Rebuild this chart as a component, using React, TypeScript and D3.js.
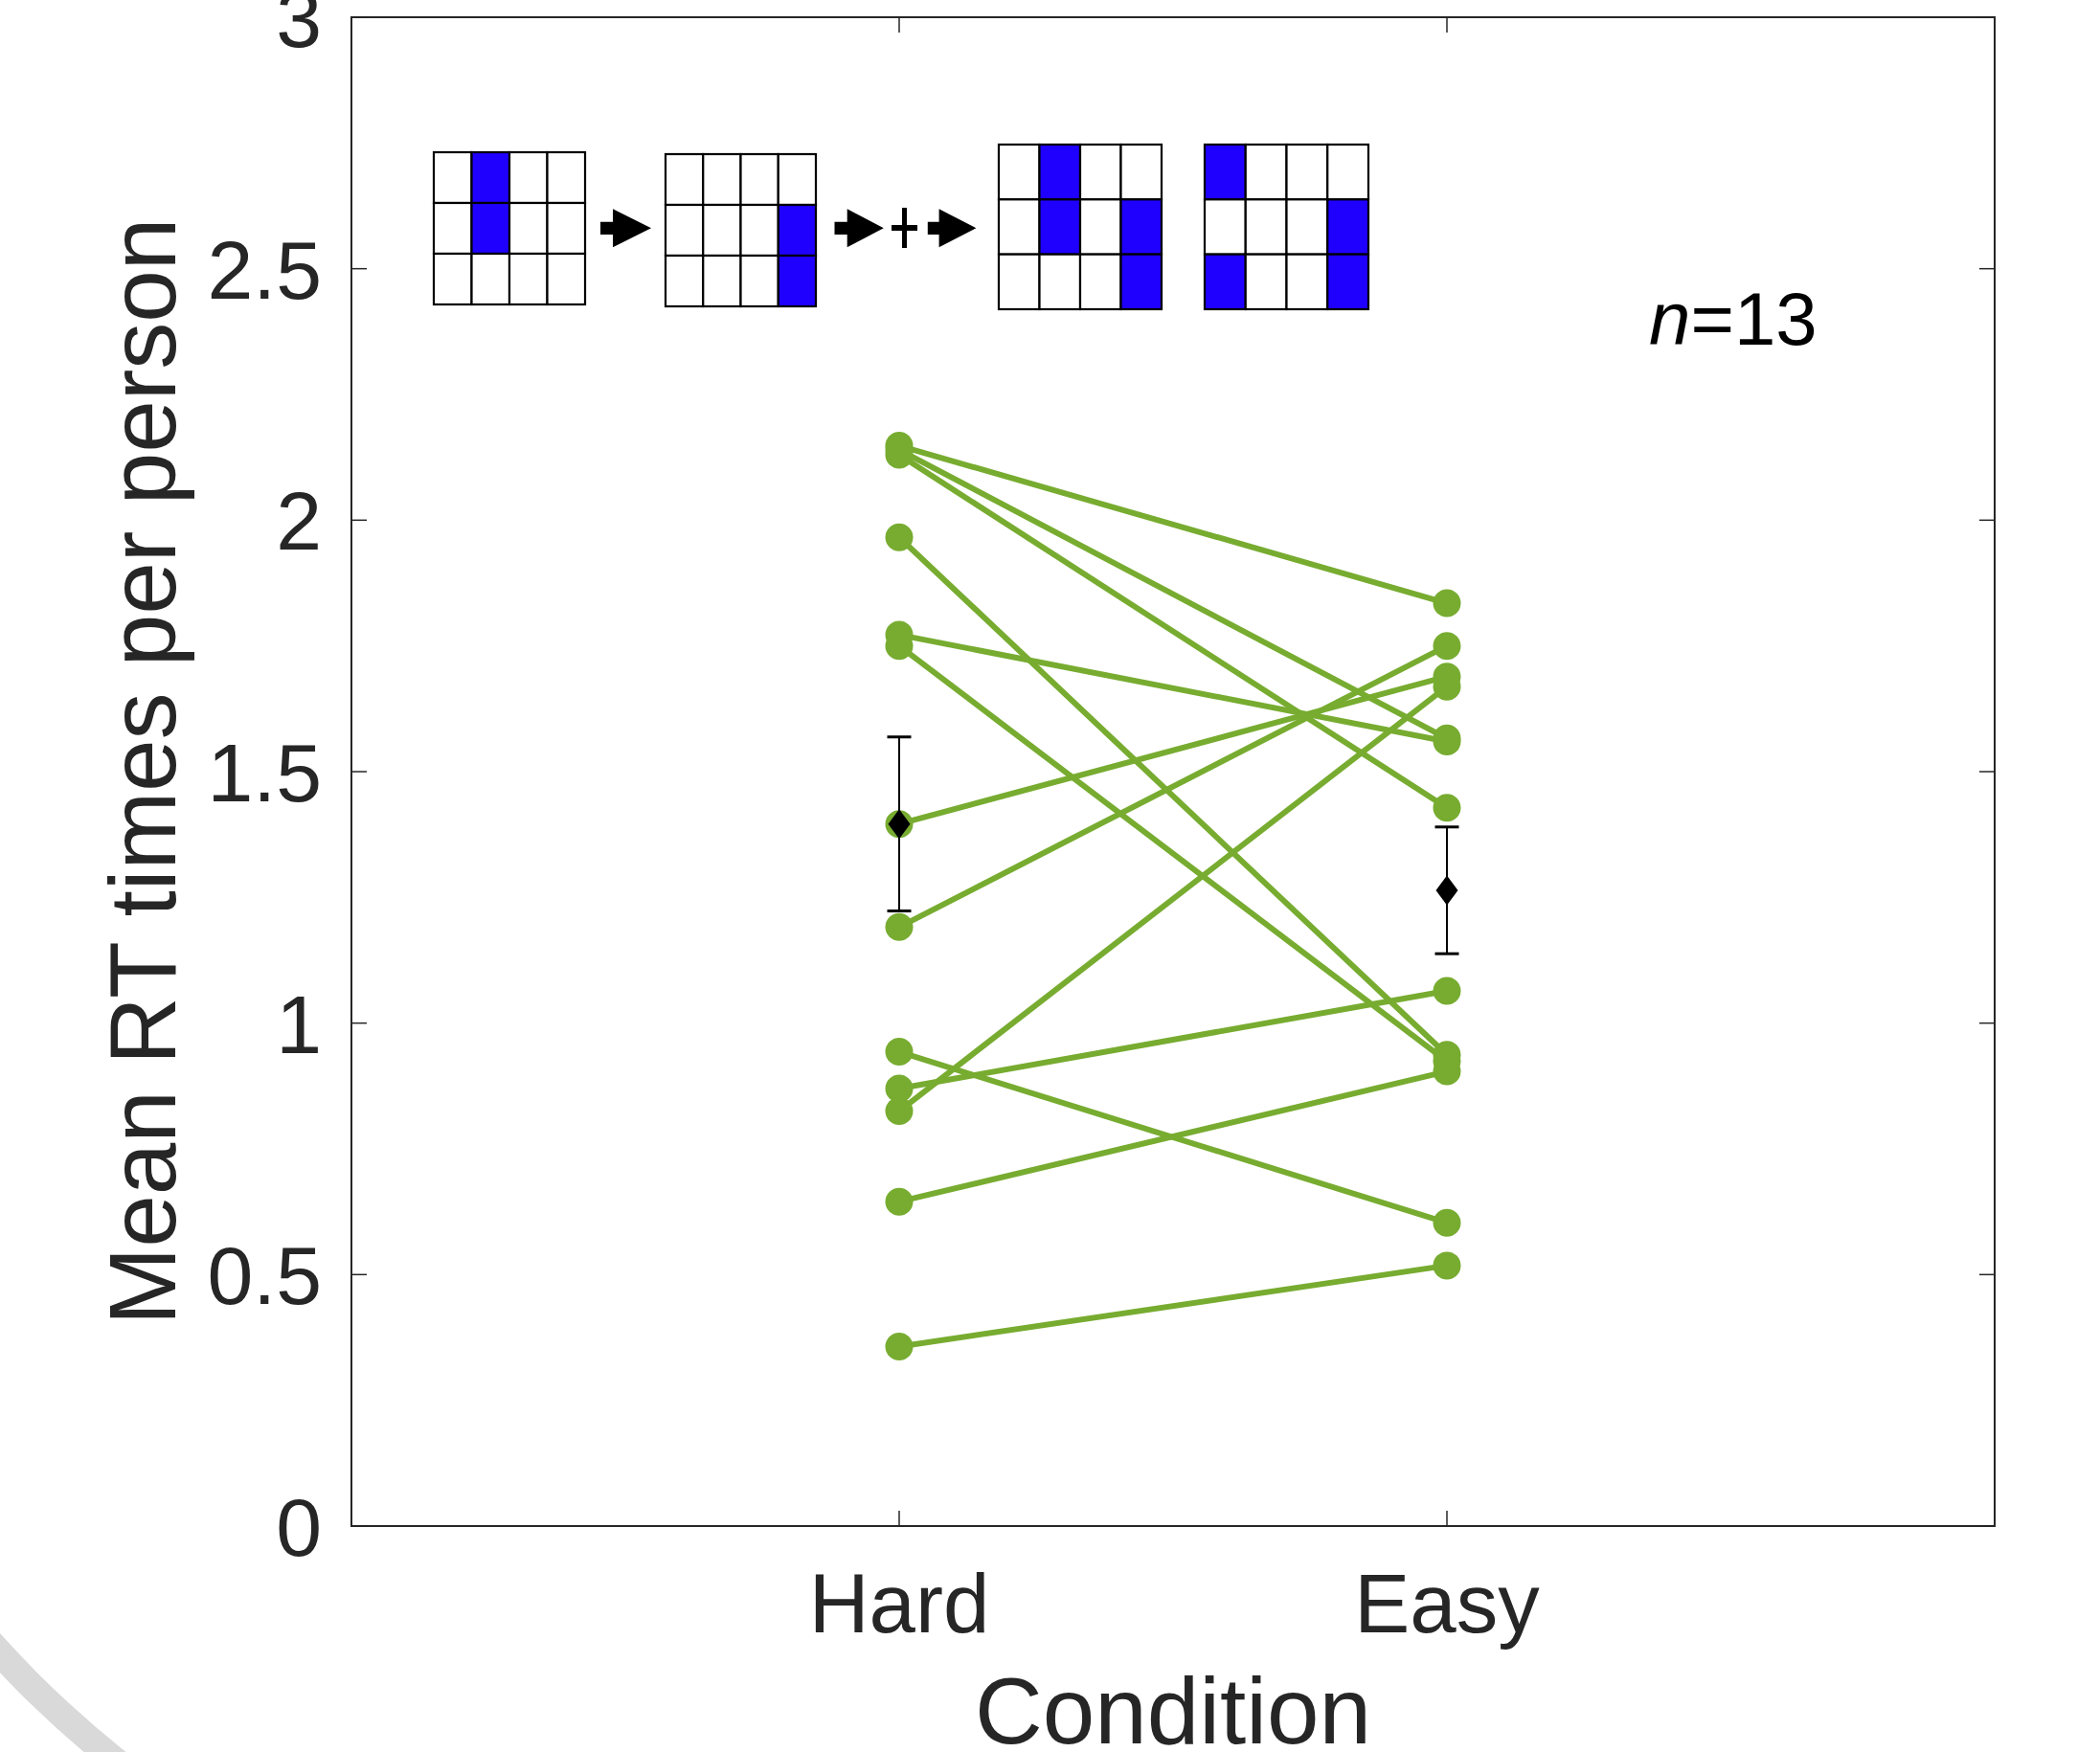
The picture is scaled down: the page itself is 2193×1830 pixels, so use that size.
import React from "react";
import * as d3 from "d3";

// ---- data ----
const conditions = ["Hard", "Easy"];
const hardRT = [2.148, 2.140, 2.130, 1.966, 1.772, 1.750, 1.396, 1.191, 0.943, 0.870, 0.825, 0.645, 0.357];
const easyRT = [1.835, 1.566, 1.428, 0.937, 1.560, 0.924, 1.689, 1.750, 0.603, 1.064, 1.669, 0.904, 0.518];
const meanRT = [1.396, 1.264];
const semRT = [0.173, 0.126];
const yTicks = [0, 0.5, 1, 1.5, 2, 2.5, 3];
const yTickLabels = ["0", "0.5", "1", "1.5", "2", "2.5", "3"];
const nLabel = "13";

// icon grid patterns: [col,row] of blue cells
const iconBlueCells = [
  [[1, 0], [1, 1]],
  [[3, 1], [3, 2]],
  [[1, 0], [1, 1], [3, 1], [3, 2]],
  [[0, 0], [3, 1], [0, 2], [3, 2]],
];

// ---- layout ----
const W = 2193, H = 1830;
const L = 367, R = 2083, T = 18, B = 1594;
const GREEN = "#77AC30";
const AX = "#262626";
const FONT = "'Liberation Sans', Arial, Helvetica, sans-serif";

const iconBoxes = [
  { x: 453, y: 159, w: 158, h: 159 },
  { x: 695, y: 161, w: 157, h: 159 },
  { x: 1043, y: 151, w: 170, h: 172 },
  { x: 1258, y: 151, w: 171, h: 172 },
];
const arrows = [
  { x0: 627, x1: 640, x2: 680 },
  { x0: 871.5, x1: 884.7, x2: 922.8 },
  { x0: 968.8, x1: 980.6, x2: 1019.4 },
];

export default function App() {
  const x = d3.scaleLinear().domain([0, 3]).range([L, R]);
  const y = d3.scaleLinear().domain([0, 3]).range([B, T]);
  const tickLen = 16;

  const pairs = hardRT.map((h, i) => [h, easyRT[i]]);
  const line = d3.line<[number, number]>().x((d) => d[0]).y((d) => d[1]);

  // arc decoration bottom-left
  const arcGen = d3.arc();
  const arcPath = arcGen({
    innerRadius: 1075,
    outerRadius: 1103,
    startAngle: (200 * Math.PI) / 180,
    endAngle: (250 * Math.PI) / 180,
  } as any) as string;

  return (
    <div style={{ position: "absolute", left: 0, top: 0, width: W, height: H, overflow: "hidden", background: "#fff" }}>
      <svg width={W} height={H} style={{ display: "block" }} fontFamily={FONT}>
        <rect x={0} y={0} width={W} height={H} fill="#fff" />
        <path d={arcPath} transform="translate(800,988)" fill="#d9d9d9" />

        {/* axes box */}
        <rect x={L} y={T} width={R - L} height={B - T} fill="none" stroke={AX} strokeWidth={2} />
        {yTicks.map((t, i) => (
          <g key={"yt" + i}>
            <line x1={L} x2={L + tickLen} y1={y(t)} y2={y(t)} stroke={AX} strokeWidth={1.5} />
            <line x1={R} x2={R - tickLen} y1={y(t)} y2={y(t)} stroke={AX} strokeWidth={1.5} />
            <text x={L - 31} y={y(t) + 31} textAnchor="end" fontSize={86} fill={AX}>
              {yTickLabels[i]}
            </text>
          </g>
        ))}
        {conditions.map((c, i) => (
          <g key={"xt" + i}>
            <line x1={x(i + 1)} x2={x(i + 1)} y1={B} y2={B - tickLen} stroke={AX} strokeWidth={1.5} />
            <line x1={x(i + 1)} x2={x(i + 1)} y1={T} y2={T + tickLen} stroke={AX} strokeWidth={1.5} />
            <text x={x(i + 1)} y={1705} textAnchor="middle" fontSize={87} fill={AX}>
              {c}
            </text>
          </g>
        ))}
        <text x={(L + R) / 2} y={1821} textAnchor="middle" fontSize={98} fill={AX}>
          Condition
        </text>
        <text
          transform={`translate(183,${(T + B) / 2}) rotate(-90)`}
          textAnchor="middle"
          fontSize={98}
          fill={AX}
        >
          Mean RT times per person
        </text>

        {/* paired lines */}
        {pairs.map((p, i) => (
          <path
            key={"l" + i}
            d={line([[x(1), y(p[0])], [x(2), y(p[1])]]) as string}
            stroke={GREEN}
            strokeWidth={6}
            fill="none"
          />
        ))}
        {pairs.map((p, i) => (
          <g key={"p" + i}>
            <circle cx={x(1)} cy={y(p[0])} r={14.5} fill={GREEN} />
            <circle cx={x(2)} cy={y(p[1])} r={14.5} fill={GREEN} />
          </g>
        ))}

        {/* means with SEM */}
        {meanRT.map((m, i) => {
          const cx = x(i + 1);
          const yt = y(m + semRT[i]);
          const yb = y(m - semRT[i]);
          const cy = y(m);
          return (
            <g key={"m" + i}>
              <line x1={cx} x2={cx} y1={yt} y2={yb} stroke="#000" strokeWidth={2} />
              <line x1={cx - 12.5} x2={cx + 12.5} y1={yt} y2={yt} stroke="#000" strokeWidth={3} />
              <line x1={cx - 12.5} x2={cx + 12.5} y1={yb} y2={yb} stroke="#000" strokeWidth={3} />
              <path
                d={`M${cx},${cy - 15.5} L${cx + 11.5},${cy} L${cx},${cy + 15.5} L${cx - 11.5},${cy} Z`}
                fill="#000"
              />
            </g>
          );
        })}

        {/* icons */}
        {iconBoxes.map((b, k) => {
          const cw = b.w / 4;
          const rh = b.h / 3;
          const cells = [];
          for (let r = 0; r < 3; r++)
            for (let c = 0; c < 4; c++) {
              const blue = iconBlueCells[k].some((bc) => bc[0] === c && bc[1] === r);
              cells.push(
                <rect
                  key={`${k}-${r}-${c}`}
                  x={b.x + c * cw}
                  y={b.y + r * rh}
                  width={cw}
                  height={rh}
                  fill={blue ? "#1f00ff" : "#fff"}
                  stroke="#000"
                  strokeWidth={2.2}
                />
              );
            }
          return <g key={"ic" + k}>{cells}</g>;
        })}
        {arrows.map((a, i) => (
          <path
            key={"ar" + i}
            d={`M${a.x0},231.7 L${a.x1},231.7 L${a.x1},218.3 L${a.x2},238.3 L${a.x1},258.3 L${a.x1},245 L${a.x0},245 Z`}
            fill="#000"
          />
        ))}
        <rect x={942} y={217} width={5} height={42} fill="#000" />
        <rect x={931} y={235} width={27} height={6} fill="#000" />

        <text x={1722} y={360} fontSize={78} fill="#000">
          <tspan fontStyle="italic">n</tspan>
          <tspan>={nLabel}</tspan>
        </text>
      </svg>
    </div>
  );
}
